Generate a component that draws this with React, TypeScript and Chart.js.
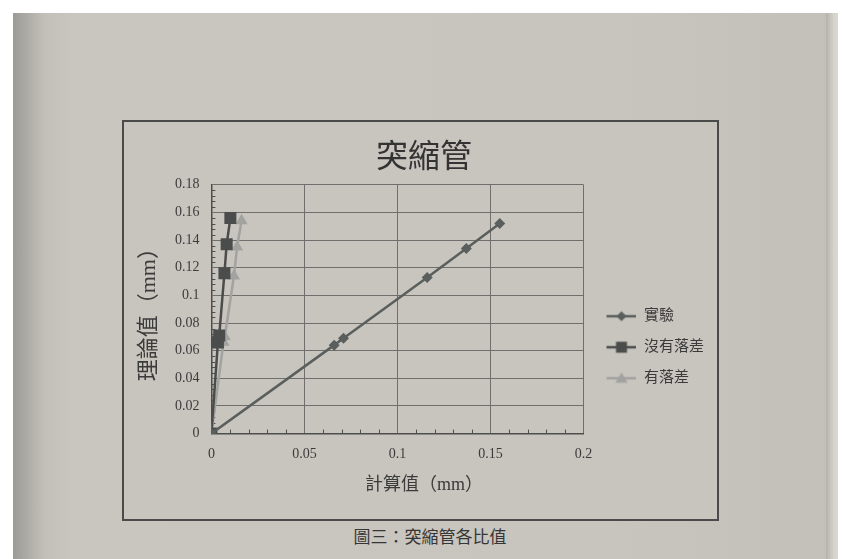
import React, { useEffect, useRef } from "react";
import { Chart, registerables } from "chart.js";

Chart.register(...registerables);

// Series values (x = 計算值, y = 理論值), all in mm
const seriesNames = ["實驗", "沒有落差", "有落差"];
const expX = [0, 0.066, 0.071, 0.116, 0.137, 0.155];
const expY = [0, 0.064, 0.069, 0.113, 0.134, 0.152];
const noDropX = [0, 0.0035, 0.0042, 0.007, 0.0082, 0.0102];
const noDropY = [0, 0.066, 0.071, 0.116, 0.137, 0.156];
const dropX = [0, 0.0065, 0.0072, 0.0121, 0.0138, 0.0162];
const dropY = [0, 0.066, 0.07, 0.114, 0.135, 0.154];

// Axis ticks
const xTicks = [0, 0.05, 0.1, 0.15, 0.2];
const yTicks = [0, 0.02, 0.04, 0.06, 0.08, 0.1, 0.12, 0.14, 0.16, 0.18];
const xMinorStep = 0.01;
const yMinorStep = 0.004;

// Texts
const chartTitle = "突縮管";
const xTitle = "計算值（mm）";
const yTitle = "理論值（mm）";
const caption = "圖三：突縮管各比值";

const FONT = "'Liberation Serif', 'Noto Sans CJK TC', serif";
const TEXT = "#3b3b3b";
const GRID = "#6f6f6d";
const AXIS = "#4e4e4e";
const PAPER = "#c8c5bf";

const COLORS = ["#5a5f5d", "#4b4d4c", "#a2a2a0"];
const STYLES = ["rectRot", "rect", "triangle"];
const RADII = [5.5, 8.5, 7];

const ICON_W = 37;
const ICON_H = 16;

function makeIcon(color: string, style: string): HTMLCanvasElement {
  const c = document.createElement("canvas");
  c.width = ICON_W;
  c.height = ICON_H;
  const g = c.getContext("2d")!;
  const cy = ICON_H / 2;
  const x0 = ICON_W - 30;
  g.strokeStyle = color;
  g.lineWidth = 2.5;
  g.beginPath();
  g.moveTo(x0, cy);
  g.lineTo(ICON_W, cy);
  g.stroke();
  const cx = x0 + 15;
  g.fillStyle = color;
  g.beginPath();
  if (style === "rectRot") {
    g.moveTo(cx - 5, cy);
    g.lineTo(cx, cy - 5);
    g.lineTo(cx + 5, cy);
    g.lineTo(cx, cy + 5);
  } else if (style === "rect") {
    g.rect(cx - 5.5, cy - 5.5, 11, 11);
  } else {
    g.moveTo(cx, cy - 6);
    g.lineTo(cx + 6, cy + 4.5);
    g.lineTo(cx - 6, cy + 4.5);
  }
  g.closePath();
  g.fill();
  return c;
}

const minorTicks = {
  id: "minorTicks",
  beforeDatasetsDraw(chart: any) {
    const { ctx, scales } = chart;
    const x = scales.x;
    const y = scales.y;
    ctx.save();
    ctx.strokeStyle = AXIS;
    ctx.lineWidth = 1;
    ctx.beginPath();
    const yCount = Math.round(y.max / yMinorStep);
    for (let i = 1; i <= yCount; i++) {
      if (i % 5 === 0) continue;
      const py = Math.round(y.getPixelForValue(i * yMinorStep)) + 0.5;
      ctx.moveTo(x.left, py);
      ctx.lineTo(x.left + 4, py);
    }
    const xCount = Math.round(x.max / xMinorStep);
    for (let i = 1; i <= xCount; i++) {
      if (i % 5 === 0) continue;
      const px = Math.round(x.getPixelForValue(i * xMinorStep)) + 0.5;
      ctx.moveTo(px, y.bottom);
      ctx.lineTo(px, y.bottom - 4);
    }
    ctx.stroke();
    ctx.restore();
  },
};

function toPoints(xs: number[], ys: number[]) {
  return xs.map((v, i) => ({ x: v, y: ys[i] }));
}

export default function App() {
  const ref = useRef<HTMLCanvasElement>(null);

  useEffect(() => {
    const canvas = ref.current!;
    const icons = COLORS.map((c, i) => makeIcon(c, STYLES[i]));
    const sets = [
      toPoints(expX, expY),
      toPoints(noDropX, noDropY),
      toPoints(dropX, dropY),
    ];
    const chart = new Chart(canvas, {
      type: "scatter",
      data: {
        datasets: sets.map((d, i) => ({
          label: seriesNames[i],
          data: d,
          showLine: true,
          borderColor: COLORS[i],
          backgroundColor: COLORS[i],
          borderWidth: 2.5,
          pointStyle: STYLES[i],
          pointRadius: RADII[i],
          pointBorderWidth: 0,
          pointBackgroundColor: COLORS[i],
        })),
      },
      options: {
        responsive: false,
        animation: false,
        layout: { padding: { left: 10, right: 3, top: 0, bottom: 0 } },
        scales: {
          x: {
            type: "linear",
            min: 0,
            max: 0.2,
            afterBuildTicks: (s: any) => {
              s.ticks = xTicks.map((v) => ({ value: v }));
            },
            ticks: {
              font: { family: FONT, size: 14 },
              color: TEXT,
              padding: 12,
              callback: (v: any) => String(Number(v)),
            },
            grid: { color: GRID, lineWidth: 1, drawTicks: false },
            border: { color: AXIS, width: 1.5 },
          },
          y: {
            type: "linear",
            min: 0,
            max: 0.18,
            afterBuildTicks: (s: any) => {
              s.ticks = yTicks.map((v) => ({ value: v }));
            },
            ticks: {
              font: { family: FONT, size: 14 },
              color: TEXT,
              padding: 12,
              callback: (v: any) => String(Number(v)),
            },
            grid: { color: GRID, lineWidth: 1, drawTicks: false },
            border: { color: AXIS, width: 1.5 },
            title: {
              display: true,
              text: yTitle,
              font: { family: FONT, size: 22 },
              color: TEXT,
              padding: { top: 2.5, bottom: 0 },
            },
          },
        },
        plugins: {
          title: {
            display: true,
            text: chartTitle,
            font: { family: FONT, size: 32, weight: "normal" },
            color: "#333333",
            padding: { top: 17.4, bottom: 7 },
          },
          subtitle: {
            display: true,
            position: "bottom",
            text: xTitle,
            font: { family: FONT, size: 18, weight: "normal" },
            color: TEXT,
            padding: { top: 0, bottom: 23 },
          },
          legend: {
            position: "right",
            align: "center",
            title: {
              display: true,
              text: "",
              font: { size: 12 },
              padding: { top: 39, bottom: 0 },
            },
            labels: {
              font: { family: FONT, size: 15 },
              color: TEXT,
              usePointStyle: true,
              pointStyleWidth: ICON_W,
              padding: 16,
              generateLabels: (c: any) => {
                const items = (Chart as any).defaults.plugins.legend.labels.generateLabels(c);
                items.forEach((it: any, i: number) => {
                  it.pointStyle = icons[i];
                });
                return items;
              },
            },
          },
          tooltip: { enabled: false },
        },
      } as any,
      plugins: [minorTicks],
    });
    return () => chart.destroy();
  }, []);

  return (
    <div style={{ position: "relative", width: 838, height: 551, overflow: "hidden" }}>
      <div
        style={{
          position: "absolute",
          left: 5,
          top: 5,
          width: 813,
          height: 546,
          background:
            "linear-gradient(to right, #9d9b96 0px, #b2b0aa 18px, #c3c0ba 32px, #c9c6c0 60px, #c8c5bf 600px, #c3c0b9 813px)",
        }}
      />
      <div
        style={{
          position: "absolute",
          left: 818,
          top: 5,
          width: 20,
          height: 546,
          background: "linear-gradient(to right, #b7b2a8 0px, #d6d4cf 8px, #e2e1dd 20px)",
        }}
      />
      <div
        style={{
          position: "absolute",
          left: 114,
          top: 112,
          width: 597,
          height: 401,
          boxSizing: "border-box",
          border: "2px solid #4a4a4a",
          background: PAPER,
        }}
      >
        <canvas ref={ref} width={593} height={397} style={{ display: "block", width: 593, height: 397 }} />
      </div>
      <div
        style={{
          position: "absolute",
          left: 322,
          top: 518,
          width: 200,
          textAlign: "center",
          lineHeight: "24px",
          fontSize: 17,
          fontFamily: FONT,
          color: "#363636",
        }}
      >
        {caption}
      </div>
    </div>
  );
}
